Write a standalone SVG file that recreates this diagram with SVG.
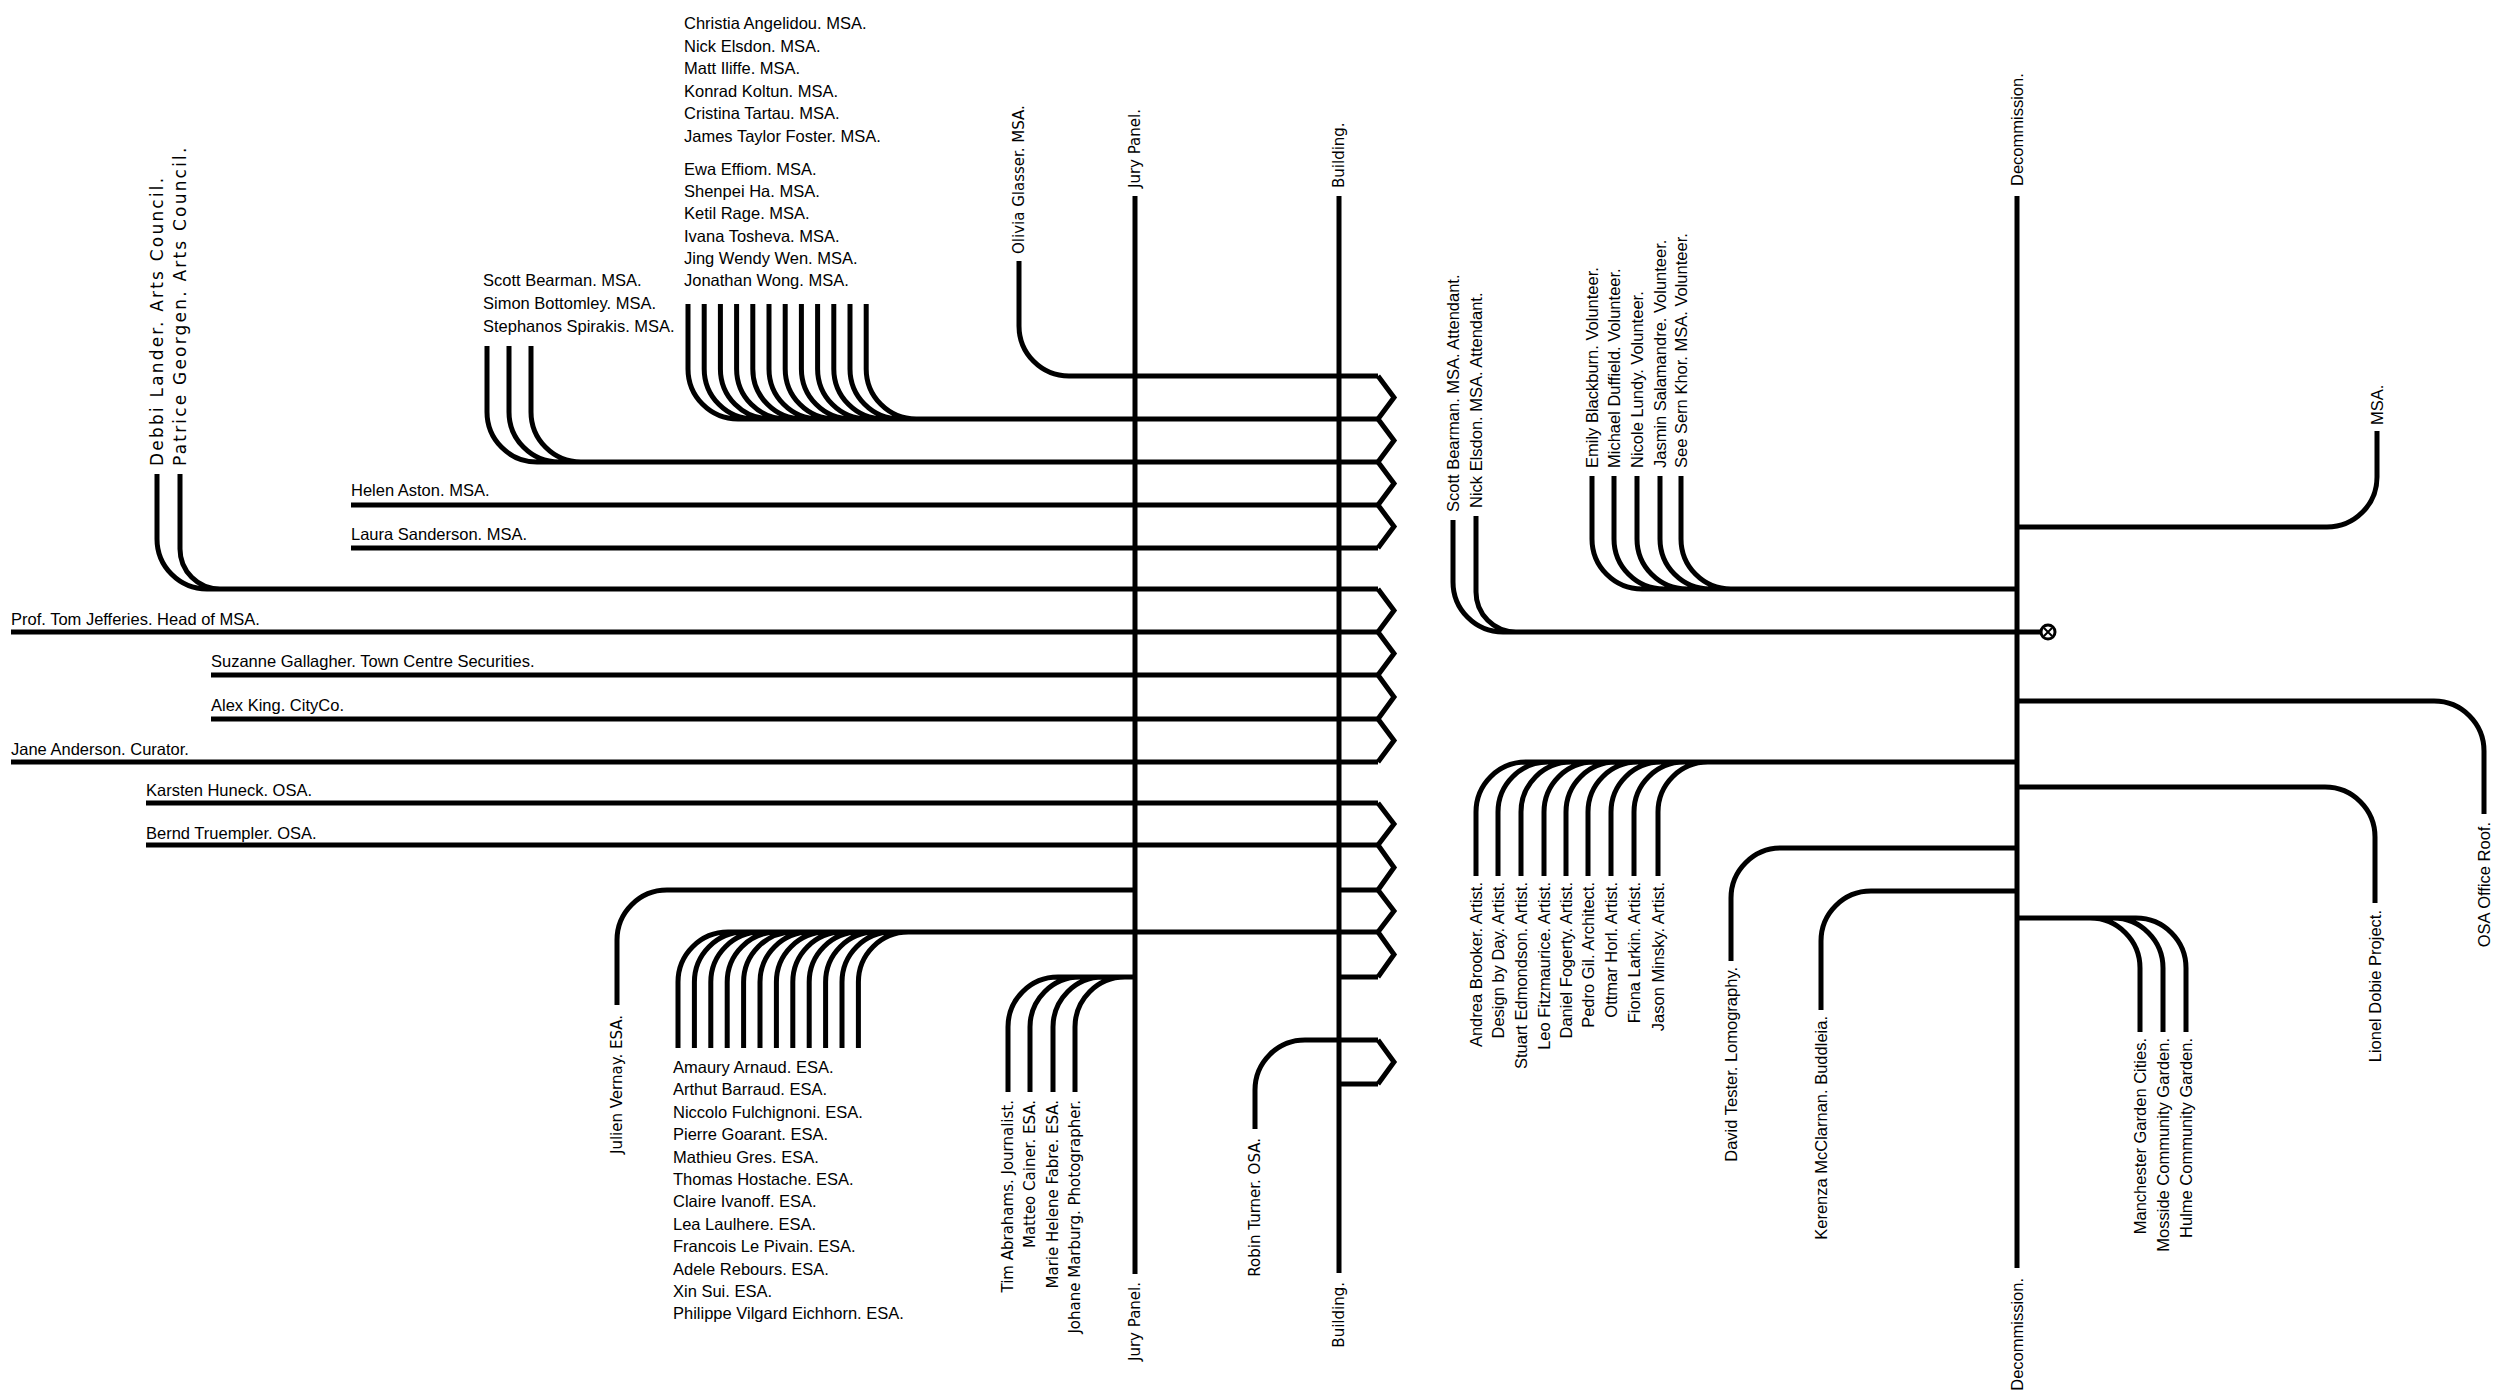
<svg xmlns="http://www.w3.org/2000/svg" width="2500" height="1395" viewBox="0 0 2500 1395">
<style>
.l{fill:none;stroke:#000;stroke-width:5}
.n{font-family:"Liberation Sans Narrow","Liberation Sans",sans-serif;font-size:16.5px;fill:#000}
.w{font-family:"DejaVu Sans",sans-serif;font-size:15px;fill:#000}
.big{font-size:17px;letter-spacing:2.2px}
.e{text-anchor:end}
</style>
<rect width="2500" height="1395" fill="#fff"/>
<g id="connectors" class="l">
<path d="M1135,196V1274M1339,196V1273M2017,196V1268"/>
<path d="M1019,261V326A50 50 0 0 0 1069,376H1378"/>
<path d="M688,304V369A50 50 0 0 0 738,419H1378M704.2,304V369A50 50 0 0 0 754.2,419M720.4,304V369A50 50 0 0 0 770.4,419M736.6,304V369A50 50 0 0 0 786.6,419M752.8,304V369A50 50 0 0 0 802.8,419M769,304V369A50 50 0 0 0 819,419M785.2,304V369A50 50 0 0 0 835.2,419M801.4,304V369A50 50 0 0 0 851.4,419M817.6,304V369A50 50 0 0 0 867.6,419M833.8,304V369A50 50 0 0 0 883.8,419M850,304V369A50 50 0 0 0 900,419M866.2,304V369A50 50 0 0 0 916.2,419"/>
<path d="M487,346V412A50 50 0 0 0 537,462H1378M509,346V412A50 50 0 0 0 559,462M531,346V412A50 50 0 0 0 581,462"/>
<path d="M351,505H1378M351,548H1378"/>
<path d="M157,474V539A50 50 0 0 0 207,589H1378M180,474V549A40 40 0 0 0 220,589"/>
<path d="M11,632H1378M211,675H1378M211,719H1378M11,762H1378M146,803H1378M146,845H1378"/>
<path d="M617,1005V940A50 50 0 0 1 667,890H1135M1339,890H1378"/>
<path d="M678,1048V982A50 50 0 0 1 728,932H1378M694.4,1048V982A50 50 0 0 1 744.4,932M710.8,1048V982A50 50 0 0 1 760.8,932M727.2,1048V982A50 50 0 0 1 777.2,932M743.6,1048V982A50 50 0 0 1 793.6,932M760,1048V982A50 50 0 0 1 810,932M776.4,1048V982A50 50 0 0 1 826.4,932M792.8,1048V982A50 50 0 0 1 842.8,932M809.2,1048V982A50 50 0 0 1 859.2,932M825.6,1048V982A50 50 0 0 1 875.6,932M842,1048V982A50 50 0 0 1 892,932M858.4,1048V982A50 50 0 0 1 908.4,932"/>
<path d="M1008,1092V1027A50 50 0 0 1 1058,977H1135M1030,1092V1027A50 50 0 0 1 1080,977M1053,1092V1027A50 50 0 0 1 1103,977M1075,1092V1027A50 50 0 0 1 1125,977M1339,977H1378"/>
<path d="M1255,1129V1090A50 50 0 0 1 1305,1040H1378M1339,1084H1378"/>
<path d="M1378,376L1394,397.5L1378,419L1394,440.5L1378,462L1394,483.5L1378,505L1394,526.5L1378,548M1378,589L1394,610.5L1378,632L1394,653.5L1378,675L1394,697L1378,719L1394,740.5L1378,762M1378,803L1394,824L1378,845L1394,867.5L1378,890L1394,911L1378,932L1394,954.5L1378,977M1378,1040L1394,1062L1378,1084"/>
<path d="M1453,520V582A50 50 0 0 0 1503,632H2041M1476,516V592A40 40 0 0 0 1516,632"/>
<path d="M1592,476V539A50 50 0 0 0 1642,589H2017M1614,476V539A50 50 0 0 0 1664,589M1637,476V539A50 50 0 0 0 1687,589M1660,476V539A50 50 0 0 0 1710,589M1681,476V539A50 50 0 0 0 1731,589"/>
<path d="M2017,527H2327A50 50 0 0 0 2377,477V431"/>
<path d="M2017,701H2434A50 50 0 0 1 2484,751V814"/>
<path d="M1476,876V812A50 50 0 0 1 1526,762H2017M1498,876V812A50 50 0 0 1 1548,762M1521,876V812A50 50 0 0 1 1571,762M1544,876V812A50 50 0 0 1 1594,762M1566,876V812A50 50 0 0 1 1616,762M1588,876V812A50 50 0 0 1 1638,762M1611,876V812A50 50 0 0 1 1661,762M1634,876V812A50 50 0 0 1 1684,762M1658,876V812A50 50 0 0 1 1708,762"/>
<path d="M2017,787H2325A50 50 0 0 1 2375,837V903"/>
<path d="M2017,848H1781A50 50 0 0 0 1731,898V961"/>
<path d="M2017,891H1871A50 50 0 0 0 1821,941V1010"/>
<path d="M2017,918H2090A50 50 0 0 1 2140,968V1032M2017,918H2113A50 50 0 0 1 2163,968V1032M2017,918H2136A50 50 0 0 1 2186,968V1032"/>
</g>
<g id="end-marker">
<circle cx="2048" cy="632" r="7" fill="#fff" stroke="#000" stroke-width="3"/>
<path d="M2044,628L2052,636M2052,628L2044,636" stroke="#000" stroke-width="2"/>
</g>
<g id="msa-top-labels" class="n">
<text x="684" y="29">Christia Angelidou. MSA.</text>
<text x="684" y="52">Nick Elsdon. MSA.</text>
<text x="684" y="74">Matt Iliffe. MSA.</text>
<text x="684" y="97">Konrad Koltun. MSA.</text>
<text x="684" y="119">Cristina Tartau. MSA.</text>
<text x="684" y="142">James Taylor Foster. MSA.</text>
<text x="684" y="175">Ewa Effiom. MSA.</text>
<text x="684" y="197">Shenpei Ha. MSA.</text>
<text x="684" y="219">Ketil Rage. MSA.</text>
<text x="684" y="242">Ivana Tosheva. MSA.</text>
<text x="684" y="264">Jing Wendy Wen. MSA.</text>
<text x="684" y="286">Jonathan Wong. MSA.</text>
<text x="483" y="286">Scott Bearman. MSA.</text>
<text x="483" y="309">Simon Bottomley. MSA.</text>
<text x="483" y="332">Stephanos Spirakis. MSA.</text>
</g>
<g id="row-labels" class="n">
<text x="351" y="496">Helen Aston. MSA.</text>
<text x="351" y="540">Laura Sanderson. MSA.</text>
<text x="11" y="625">Prof. Tom Jefferies. Head of MSA.</text>
<text x="211" y="667">Suzanne Gallagher. Town Centre Securities.</text>
<text x="211" y="711">Alex King. CityCo.</text>
<text x="11" y="755">Jane Anderson. Curator.</text>
<text x="146" y="796">Karsten Huneck. OSA.</text>
<text x="146" y="839">Bernd Truempler. OSA.</text>
</g>
<g id="esa-labels" class="n">
<text x="673" y="1073">Amaury Arnaud. ESA.</text>
<text x="673" y="1095.4">Arthut Barraud. ESA.</text>
<text x="673" y="1117.8">Niccolo Fulchignoni. ESA.</text>
<text x="673" y="1140.2">Pierre Goarant. ESA.</text>
<text x="673" y="1162.6">Mathieu Gres. ESA.</text>
<text x="673" y="1185">Thomas Hostache. ESA.</text>
<text x="673" y="1207.4">Claire Ivanoff. ESA.</text>
<text x="673" y="1229.8">Lea Laulhere. ESA.</text>
<text x="673" y="1252.2">Francois Le Pivain. ESA.</text>
<text x="673" y="1274.6">Adele Rebours. ESA.</text>
<text x="673" y="1297">Xin Sui. ESA.</text>
<text x="673" y="1319.4">Philippe Vilgard Eichhorn. ESA.</text>
</g>
<g id="wide-vertical-labels" class="w">
<text class="big" transform="translate(157,466) rotate(-90)" dy=".35em">Debbi Lander. Arts Council.</text>
<text class="big" transform="translate(180,466) rotate(-90)" dy=".35em">Patrice Georgen. Arts Council.</text>
<text transform="translate(1019,254) rotate(-90)" dy=".35em">Olivia Glasser. MSA.</text>
<text transform="translate(1135,188) rotate(-90)" dy=".35em">Jury Panel.</text>
<text transform="translate(1339,188) rotate(-90)" dy=".35em">Building.</text>
<text class="e" transform="translate(1135,1282) rotate(-90)" dy=".35em">Jury Panel.</text>
<text class="e" transform="translate(1339,1282) rotate(-90)" dy=".35em">Building.</text>
<text class="e" transform="translate(617,1015) rotate(-90)" dy=".35em">Julien  Vernay. ESA.</text>
<text class="e" transform="translate(1008,1100) rotate(-90)" dy=".35em">Tim Abrahams. Journalist.</text>
<text class="e" transform="translate(1030,1100) rotate(-90)" dy=".35em">Matteo Cainer. ESA.</text>
<text class="e" transform="translate(1053,1100) rotate(-90)" dy=".35em">Marie Helene Fabre. ESA.</text>
<text class="e" transform="translate(1075,1100) rotate(-90)" dy=".35em">Johane Marburg. Photographer.</text>
<text class="e" transform="translate(1255,1138) rotate(-90)" dy=".35em">Robin Turner. OSA.</text>
</g>
<g id="right-labels" class="n">
<text transform="translate(2017,186) rotate(-90)" dy=".35em">Decommission.</text>
<text class="e" transform="translate(2017,1278) rotate(-90)" dy=".35em">Decommission.</text>
<text transform="translate(1453,512) rotate(-90)" dy=".35em">Scott Bearman. MSA. Attendant.</text>
<text transform="translate(1476,508) rotate(-90)" dy=".35em">Nick Elsdon. MSA. Attendant.</text>
<text transform="translate(1592,468) rotate(-90)" dy=".35em">Emily Blackburn. Volunteer.</text>
<text transform="translate(1614,468) rotate(-90)" dy=".35em">Michael Duffield. Volunteer.</text>
<text transform="translate(1637,468) rotate(-90)" dy=".35em">Nicole Lundy. Volunteer.</text>
<text transform="translate(1660,468) rotate(-90)" dy=".35em">Jasmin Salamandre. Volunteer.</text>
<text transform="translate(1681,468) rotate(-90)" dy=".35em">See Sern Khor. MSA. Volunteer.</text>
<text transform="translate(2377,425) rotate(-90)" dy=".35em">MSA.</text>
<text class="e" transform="translate(2484,822) rotate(-90)" dy=".35em">OSA Office Roof.</text>
<text class="e" transform="translate(1476,882) rotate(-90)" dy=".35em">Andrea Brooker. Artist.</text>
<text class="e" transform="translate(1498,882) rotate(-90)" dy=".35em">Design by Day. Artist.</text>
<text class="e" transform="translate(1521,882) rotate(-90)" dy=".35em">Stuart Edmondson. Artist.</text>
<text class="e" transform="translate(1544,882) rotate(-90)" dy=".35em">Leo Fitzmaurice. Artist.</text>
<text class="e" transform="translate(1566,882) rotate(-90)" dy=".35em">Daniel Fogerty. Artist.</text>
<text class="e" transform="translate(1588,882) rotate(-90)" dy=".35em">Pedro Gil. Architect.</text>
<text class="e" transform="translate(1611,882) rotate(-90)" dy=".35em">Ottmar Horl. Artist.</text>
<text class="e" transform="translate(1634,882) rotate(-90)" dy=".35em">Fiona Larkin. Artist.</text>
<text class="e" transform="translate(1658,882) rotate(-90)" dy=".35em">Jason Minsky. Artist.</text>
<text class="e" transform="translate(2375,910) rotate(-90)" dy=".35em">Lionel Dobie Project.</text>
<text class="e" transform="translate(1731,967) rotate(-90)" dy=".35em">David Tester. Lomography.</text>
<text class="e" transform="translate(1821,1016) rotate(-90)" dy=".35em">Kerenza McClarnan. Buddleia.</text>
<text class="e" transform="translate(2140,1038) rotate(-90)" dy=".35em">Manchester Garden Cities.</text>
<text class="e" transform="translate(2163,1038) rotate(-90)" dy=".35em">Mosside Community Garden.</text>
<text class="e" transform="translate(2186,1038) rotate(-90)" dy=".35em">Hulme Community Garden.</text>
</g>
</svg>
